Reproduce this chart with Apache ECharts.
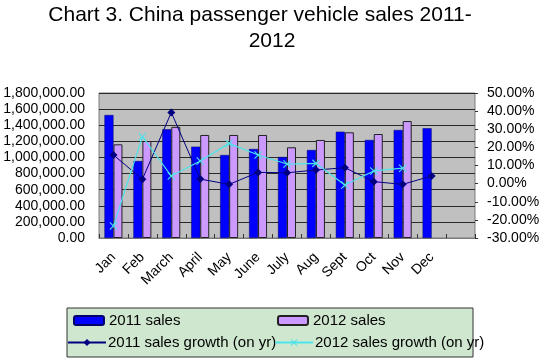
<!DOCTYPE html>
<html>
<head>
<meta charset="utf-8">
<script src="https://cdn.jsdelivr.net/npm/echarts@6/dist/echarts.min.js"></script>
<style>html,body{margin:0;padding:0;background:#fff;}#c{width:550px;height:364px;}</style>
</head>
<body>
<div id="c"></div>
<script>
var categories = ['Jan','Feb','March','April','May','June','July','Aug','Sept','Oct','Nov','Dec',''];
var sales2011 = [1527000, 956000, 1349000, 1134000, 1030000, 1105000, 1005000, 1092000, 1320000, 1217000, 1341000, 1362000, null];
var sales2012 = [1163000, 1204000, 1380000, 1279000, 1279000, 1279000, 1126000, 1217000, 1312000, 1291000, 1452000, null, null];
var growth2011 = [15.8, 2.4, 39.3, 2.5, -0.4, 6.2, 6.0, 7.5, 8.8, 1.1, -0.4, 4.2, null];
var growth2012 = [-23.4, 25.9, 4.2, 12.5, 22.2, 15.8, 10.8, 11.2, -0.8, 7.0, 8.5, null, null];
var leftTicks = {min: 0, max: 1800000, interval: 200000};
var rightTicks = {min: -30, max: 50, interval: 10};

function fmtNum(v) {
  var s = Math.round(v).toString();
  s = s.replace(/\B(?=(\d{3})+(?!\d))/g, ',');
  return s + '.00';
}
var F = 'Liberation Sans, Arial, sans-serif';
var xShape = 'path://M0,1L1,0L5,4L9,0L10,1L6,5L10,9L9,10L5,6L1,10L0,9L4,5Z';
var cyan = '#4de3ea';
var chart = echarts.init(document.getElementById('c'), null, {renderer: 'canvas'});
chart.setOption({
  backgroundColor: '#ffffff',
  animation: false,
  title: [
    {text: 'Chart 3. China passenger vehicle sales 2011-', left: 260, textAlign: 'center', top: 5, padding: 0,
     textStyle: {fontFamily: F, fontSize: 21, fontWeight: 'normal', color: '#000'}},
    {text: '2012', left: 272, textAlign: 'center', top: 31, padding: 0,
     textStyle: {fontFamily: F, fontSize: 21, fontWeight: 'normal', color: '#000'}}
  ],
  graphic: [{
    type: 'rect', z: 0, shape: {x: 67, y: 308, width: 406, height: 49},
    style: {fill: '#cfe7cf', stroke: '#333', lineWidth: 1}
  }],
  legend: [
    {data: ['2011 sales'], left: 73, top: 313, padding: 0, itemWidth: 30, itemHeight: 9, z: 10,
     textStyle: {fontFamily: F, fontSize: 15, color: '#000'}},
    {data: ['2012 sales'], left: 277, top: 313, padding: 0, itemWidth: 30, itemHeight: 9, z: 10,
     textStyle: {fontFamily: F, fontSize: 15, color: '#000'}},
    {data: ['2011 sales growth (on yr)'], left: 67, top: 335, padding: 0, itemWidth: 38, itemHeight: 9, itemGap: 0, z: 10,
     textStyle: {fontFamily: F, fontSize: 15, color: '#000', padding: [0,0,0,-3]}},
    {data: ['2012 sales growth (on yr)'], left: 274, top: 335, padding: 0, itemWidth: 38, itemHeight: 9, z: 10,
     textStyle: {fontFamily: F, fontSize: 15, color: '#000', padding: [0,0,0,-3]}}
  ],
  grid: {left: 99, right: 75, top: 93, bottom: 126, show: true, backgroundColor: '#c0c0c0', borderColor: '#7a7a7a', borderWidth: 1},
  xAxis: {
    type: 'category', data: categories, boundaryGap: true,
    axisLine: {show: true, lineStyle: {color: '#7a7a7a'}},
    axisTick: {show: true, inside: true, length: 4, lineStyle: {color: '#333'}},
    axisLabel: {rotate: 45, margin: 17, interval: 0, fontFamily: F, fontSize: 14, color: '#000'}
  },
  yAxis: [
    {type: 'value', min: leftTicks.min, max: leftTicks.max, interval: leftTicks.interval, position: 'left',
     axisLine: {show: false}, axisTick: {show: false},
     splitLine: {show: true, lineStyle: {color: '#2a2a2a', width: 1}},
     axisLabel: {formatter: fmtNum, margin: 14, fontFamily: F, fontSize: 14, color: '#000'}},
    {type: 'value', min: rightTicks.min, max: rightTicks.max, interval: rightTicks.interval, position: 'right',
     axisLine: {show: false}, axisTick: {show: true, length: 3, lineStyle: {color: '#333'}},
     splitLine: {show: false},
     axisLabel: {formatter: function(v){return v.toFixed(2) + '%';}, margin: 12, fontFamily: F, fontSize: 14, color: '#000'}}
  ],
  series: [
    {name: '2011 sales', type: 'bar', data: sales2011, barWidth: 9, barGap: '0%',
     itemStyle: {color: '#0000ff', borderColor: '#00006a', borderWidth: 0.5}},
    {name: '2012 sales', type: 'bar', data: sales2012, barWidth: 9, barGap: '0%',
     itemStyle: {color: '#cc99ff', borderColor: '#222', borderWidth: 1}},
    {name: '2011 sales growth (on yr)', type: 'line', yAxisIndex: 1, data: growth2011,
     symbol: 'diamond', symbolSize: 8, showAllSymbol: true,
     lineStyle: {color: '#000080', width: 1}, itemStyle: {color: '#000080'}},
    {name: '2012 sales growth (on yr)', type: 'line', yAxisIndex: 1, data: growth2012,
     symbol: xShape, symbolSize: 8, showAllSymbol: true,
     lineStyle: {color: cyan, width: 1.2}, itemStyle: {color: cyan}}
  ]
});
</script>
</body>
</html>
